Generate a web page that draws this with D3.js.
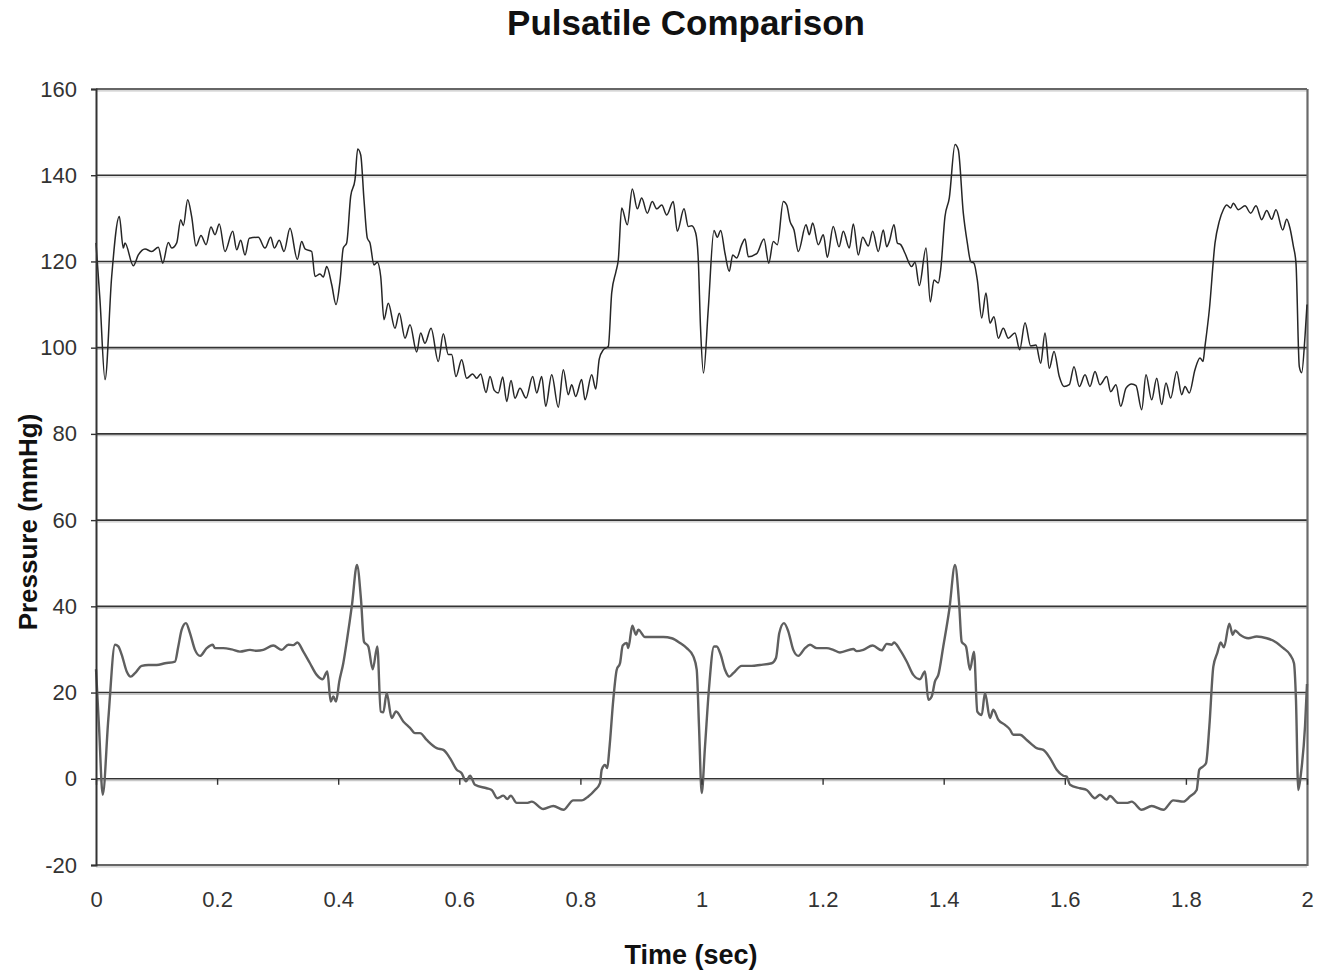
<!DOCTYPE html>
<html>
<head>
<meta charset="utf-8">
<script src="https://cdn.jsdelivr.net/npm/d3@7"></script>
<style>
  html, body { margin: 0; padding: 0; background: #fff; }
  svg { display: block; font-family: "Liberation Sans", Arial, sans-serif; }
</style>
</head>
<body>
<svg id="chart" width="1331" height="974"></svg>
<script>
// ---------------- DATA ----------------
const chartTitle = "Pulsatile Comparison";
const xAxisTitle = "Time (sec)";
const yAxisTitle = "Pressure (mmHg)";

const xTickValues = [0, 0.2, 0.4, 0.6, 0.8, 1, 1.2, 1.4, 1.6, 1.8, 2];
const xTickLabels = ["0", "0.2", "0.4", "0.6", "0.8", "1", "1.2", "1.4", "1.6", "1.8", "2"];
const yTickValues = [-20, 0, 20, 40, 60, 80, 100, 120, 140, 160];
const yTickLabels = ["-20", "0", "20", "40", "60", "80", "100", "120", "140", "160"];

// Upper trace (noisy, dark)
const upperTime = [0, 0.0066, 0.0149, 0.0259, 0.0385, 0.0451, 0.0479, 0.0616, 0.0699, 0.0809,
  0.0920, 0.1029, 0.1102, 0.1194, 0.1250, 0.1333, 0.1399, 0.1442, 0.1514, 0.1580,
  0.1652, 0.1734, 0.1817, 0.1899, 0.1965, 0.2036, 0.2130, 0.2258, 0.2324, 0.2390,
  0.2461, 0.2532, 0.2680, 0.2791, 0.2885, 0.2945, 0.3027, 0.3105, 0.3204, 0.3325,
  0.3397, 0.3452, 0.3562, 0.3617, 0.3699, 0.3754, 0.3810, 0.3893, 0.3964, 0.4030,
  0.4084, 0.4140, 0.4206, 0.4277, 0.4322, 0.4372, 0.4426, 0.4481, 0.4525, 0.4591,
  0.4646, 0.4702, 0.4756, 0.4827, 0.4938, 0.5009, 0.5103, 0.5186, 0.5296, 0.5362,
  0.5433, 0.5533, 0.5653, 0.5736, 0.5818, 0.5874, 0.5945, 0.6039, 0.6122, 0.6221,
  0.6287, 0.6353, 0.6441, 0.6507, 0.6578, 0.6644, 0.6717, 0.6783, 0.6854, 0.6920,
  0.7002, 0.7102, 0.7212, 0.7278, 0.7361, 0.7427, 0.7526, 0.7635, 0.7718, 0.7800,
  0.7856, 0.7922, 0.8021, 0.8076, 0.8187, 0.8253, 0.8312, 0.8378, 0.8461, 0.8517,
  0.8588, 0.8626, 0.8682, 0.8775, 0.8857, 0.8940, 0.9012, 0.9105, 0.9187, 0.9260,
  0.9343, 0.9425, 0.9534, 0.9600, 0.9711, 0.9782, 0.9838, 0.9904, 0.9947, 0.9983,
  1.0033, 1.0112, 1.0206, 1.0261, 1.0317, 1.0388, 1.0459, 1.0515, 1.0581, 1.0664,
  1.0718, 1.0773, 1.0911, 1.1032, 1.1110, 1.1186, 1.1252, 1.1351, 1.1407, 1.1462,
  1.1528, 1.1599, 1.1726, 1.1780, 1.1836, 1.1929, 1.2012, 1.2078, 1.2176, 1.2271,
  1.2342, 1.2441, 1.2507, 1.2590, 1.2662, 1.2755, 1.2827, 1.2920, 1.3002, 1.3059,
  1.3101, 1.3179, 1.3234, 1.3290, 1.3361, 1.3471, 1.3526, 1.3597, 1.3708, 1.3779,
  1.3840, 1.3911, 1.3950, 1.4021, 1.4092, 1.4187, 1.4241, 1.4324, 1.4390, 1.4446,
  1.4500, 1.4555, 1.4628, 1.4698, 1.4764, 1.4830, 1.4902, 1.4984, 1.5067, 1.5177,
  1.5255, 1.5343, 1.5437, 1.5524, 1.5602, 1.5673, 1.5744, 1.5822, 1.5909, 1.5987,
  1.6074, 1.6152, 1.6240, 1.6334, 1.6416, 1.6499, 1.6581, 1.6692, 1.6758, 1.6845,
  1.6923, 1.7011, 1.7105, 1.7176, 1.7270, 1.7341, 1.7435, 1.7518, 1.7600, 1.7671,
  1.7749, 1.7848, 1.7931, 1.7985, 1.8056, 1.8150, 1.8233, 1.8282, 1.8315, 1.8387,
  1.8481, 1.8551, 1.8618, 1.8674, 1.8740, 1.8783, 1.8866, 1.8976, 1.9070, 1.9158,
  1.9252, 1.9335, 1.9417, 1.9488, 1.9599, 1.9665, 1.9719, 1.9774, 1.9818, 1.9873,
  1.9912, 1.9967, 2.0];
const upperPressure = [124.3, 111, 92.6, 116.5, 130.4, 123.1, 124.3, 119, 121.5, 122.9,
  122.3, 123.3, 119.6, 124.4, 123.1, 124.3, 129.7, 128.3, 134.3, 130.4,
  123.6, 126, 123.9, 128, 126.2, 128.7, 122.3, 127, 122.7, 124.9,
  121.5, 125.4, 125.6, 123.1, 125.6, 123.1, 124.9, 122.3, 127.7, 120.5,
  124.6, 122.9, 122.3, 116.5, 117.1, 116.4, 118.8, 114.6, 110, 115.4,
  123.1, 124.3, 135.1, 138.9, 146.1, 144.7, 134.3, 125.4, 124.3, 119.2,
  119.8, 116.5, 106.5, 110.3, 104.5, 108, 102.2, 105.3, 99.0, 103.4,
  101, 104.5, 96.8, 103.2, 98.4, 98.4, 93.3, 97.2, 92.9, 93.9,
  92.9, 93.9, 89.6, 93.3, 90.1, 89.5, 93.2, 87.5, 92.4, 88.3,
  90.6, 88.3, 93.3, 89.5, 93.3, 86.4, 93.7, 86.2, 94.9, 89.1,
  91.4, 88.7, 92.6, 87.9, 93.7, 90.4, 97.4, 99.5, 100.3, 112.7,
  117.7, 120.4, 132.4, 128.5, 136.8, 132.2, 134.7, 131.2, 133.9, 132.2,
  133.1, 130.8, 133.9, 127, 132.2, 128.1, 128.3, 126.6, 120.4, 105,
  94.1, 109, 127.2, 125.6, 127.2, 121.9, 117.7, 121.5, 120.8, 123.9,
  125.2, 121.1, 121.8, 125.2, 119.6, 124.6, 123.9, 133.9, 133.1, 129.3,
  127.3, 122.3, 128.5, 126.2, 128.9, 123.9, 126.2, 121, 128.1, 123.4,
  127, 123.1, 128.7, 121.5, 125.6, 123.6, 127, 122.3, 127.3, 123.4,
  124.6, 128.5, 124.3, 123.9, 121.9, 118.8, 119.8, 114.4, 123.1, 110.6,
  115.7, 115, 118.1, 130.4, 134.7, 147.1, 145.9, 131.2, 124.3, 120,
  119.6, 115.7, 106.9, 112.7, 105.7, 107.2, 102.2, 104.5, 102.2, 103.4,
  99.5, 105.8, 100.4, 100.6, 96.4, 103.4, 95.2, 99.1, 93.3, 91,
  91.4, 95.6, 91, 93.7, 91, 94.5, 91.4, 93.3, 89.8, 91.4,
  86.4, 90.6, 91.6, 91.2, 85.6, 93.7, 87.9, 92.9, 86.8, 91.8,
  88.3, 94.5, 89.1, 91, 89.5, 94.9, 97.6, 96.8, 100.3, 108.8,
  124.3, 129.3, 132, 133.1, 132.4, 133.5, 132, 132.9, 131.2, 132.9,
  129.7, 131.8, 129.8, 132, 127.3, 129.8, 127.7, 123.6, 119.6, 95.6,
  94.2, 102.6, 110];

// Lower trace (smoother, grey)
const lowerTime = [0, 0.0050, 0.0111, 0.0203, 0.0314, 0.0368, 0.0424, 0.0507, 0.0573, 0.0644,
  0.0755, 0.0864, 0.1002, 0.1140, 0.1305, 0.1359, 0.1415, 0.1486, 0.1552, 0.1635,
  0.1718, 0.1828, 0.1927, 0.1965, 0.2102, 0.2241, 0.2378, 0.2543, 0.2654, 0.2763,
  0.2928, 0.3067, 0.3176, 0.3258, 0.3325, 0.3424, 0.3534, 0.3645, 0.3744, 0.3820,
  0.3876, 0.3919, 0.3964, 0.4018, 0.4084, 0.4145, 0.4228, 0.4310, 0.4377, 0.4426,
  0.4497, 0.4570, 0.4646, 0.4702, 0.4745, 0.4801, 0.4883, 0.4955, 0.5075, 0.5186,
  0.5268, 0.5351, 0.5462, 0.5627, 0.5736, 0.5846, 0.5957, 0.6039, 0.6111, 0.6177,
  0.6259, 0.6452, 0.6535, 0.6628, 0.6727, 0.6793, 0.6849, 0.6948, 0.7113, 0.7196,
  0.7387, 0.7553, 0.7718, 0.7883, 0.8021, 0.8130, 0.8241, 0.8324, 0.8352, 0.8406,
  0.8444, 0.8477, 0.8543, 0.8600, 0.8654, 0.8699, 0.8765, 0.8791, 0.8857, 0.8918,
  0.8956, 0.9067, 0.9204, 0.9369, 0.9508, 0.9645, 0.9756, 0.9865, 0.9921, 0.9959,
  1.0003, 1.0058, 1.0124, 1.0206, 1.0251, 1.0317, 1.0388, 1.0459, 1.0525, 1.0664,
  1.0829, 1.0966, 1.1159, 1.1230, 1.1285, 1.1362, 1.1433, 1.1516, 1.1599, 1.1709,
  1.1792, 1.1903, 1.2068, 1.2177, 1.2287, 1.2507, 1.2563, 1.2672, 1.2827, 1.2976,
  1.3059, 1.3141, 1.3179, 1.3278, 1.3389, 1.3498, 1.3608, 1.3691, 1.3746, 1.3802,
  1.3856, 1.3911, 1.3993, 1.4092, 1.4187, 1.4253, 1.4297, 1.4368, 1.4434, 1.4500,
  1.4555, 1.4628, 1.4682, 1.4764, 1.4819, 1.4902, 1.5012, 1.5095, 1.5150, 1.5260,
  1.5371, 1.5536, 1.5645, 1.5756, 1.5866, 1.5975, 1.6031, 1.6086, 1.6251, 1.6362,
  1.6499, 1.6581, 1.6692, 1.6746, 1.6884, 1.7022, 1.7105, 1.7270, 1.7435, 1.7627,
  1.7792, 1.7957, 1.8068, 1.8178, 1.8221, 1.8287, 1.8332, 1.8387, 1.8453, 1.8519,
  1.8574, 1.8629, 1.8717, 1.8773, 1.8811, 1.8893, 1.9031, 1.9169, 1.9335, 1.9472,
  1.9609, 1.9719, 1.9785, 1.9818, 1.9856, 1.9901, 1.9967, 2.0];
const lowerPressure = [25.4, 12, -3.7, 13.7, 31.1, 30.7, 28.8, 24.9, 23.7, 24.5,
  26.2, 26.4, 26.4, 26.8, 27.2, 30.7, 34.6, 36.1, 33.8, 29.9,
  28.5, 30.3, 31.1, 30.3, 30.3, 30.0, 29.5, 29.9, 29.7, 29.9,
  30.9, 29.9, 31.1, 31.0, 31.6, 29.5, 26.8, 24.1, 23.1, 24.9,
  17.9, 19.1, 17.9, 22.6, 26.8, 32.2, 40.4, 49.6, 41.5, 31.8,
  30.7, 25.4, 30.7, 15.6, 15.4, 19.9, 14.1, 15.6, 13.3, 11.8,
  10.6, 10.6, 9.0, 7.1, 6.7, 4.8, 2.1, 1.3, -0.6, 0.7,
  -1.4, -2.2, -2.6, -4.5, -3.9, -4.7, -3.9, -5.6, -5.6, -5.3,
  -7.0, -6.3, -7.2, -5.0, -5.0, -4.1, -2.6, -1.0, 2.1, 3.2,
  2.5, 6.7, 18.3, 25.3, 26.8, 30.9, 31.5, 30.3, 35.5, 33.4,
  34.6, 32.9, 32.9, 32.9, 32.6, 31.5, 30.3, 28.4, 25.3, 12.1,
  -3.3, 7.5, 21, 30.7, 30.7, 28.8, 25.3, 23.7, 24.5, 26.2,
  26.2, 26.4, 26.8, 28, 33.8, 36.1, 34.2, 29.9, 28.5, 30.3,
  31.1, 30.3, 30.3, 29.9, 29.3, 30.1, 29.6, 29.9, 30.9, 29.8,
  31.3, 31.1, 31.6, 29.9, 27.2, 24.1, 23.1, 24.9, 18.3, 19.1,
  22.6, 24.1, 30.7, 39.2, 49.6, 41, 31.8, 30.7, 25.3, 29.5,
  15.6, 14.8, 19.9, 14.1, 16, 13.7, 12.5, 11.4, 10.2, 10.2,
  9, 7.1, 6.7, 4.8, 2.1, 0.7, 0.5, -1.4, -2.2, -2.6,
  -4.5, -3.7, -4.8, -4.0, -5.6, -5.6, -5.3, -7.2, -6.3, -7.2,
  -5.0, -5.3, -4.1, -2.6, 2.1, 2.9, 3.6, 12.1, 26, 29.2,
  31.6, 30.5, 36, 33.4, 34.4, 33.4, 32.6, 33, 32.6, 31.8,
  30.3, 28.8, 26.8, 18.3, -2.6, 1.3, 12.1, 22];

// ---------------- CHART ----------------
const svg = d3.select("#chart");
const W = 1331, H = 974;
const plot = { left: 96, right: 1307, top: 89, bottom: 865 };

const x = d3.scaleLinear().domain([0, 2]).range([plot.left, plot.right]);
const y = d3.scaleLinear().domain([-20, 160]).range([plot.bottom, plot.top]);

svg.append("rect").attr("width", W).attr("height", H).attr("fill", "#fff");

// Horizontal gridlines (with faint shadow like the original)
const grid = svg.append("g");
grid.selectAll("line.shadow").data(yTickValues).join("line")
  .attr("class", "shadow")
  .attr("x1", plot.left).attr("x2", plot.right)
  .attr("y1", d => y(d) + 1.8).attr("y2", d => y(d) + 1.8)
  .attr("stroke", "#c8c8c8").attr("stroke-width", 1.2);
grid.selectAll("line.main").data(yTickValues).join("line")
  .attr("class", "main")
  .attr("x1", plot.left).attr("x2", plot.right)
  .attr("y1", d => y(d)).attr("y2", d => y(d))
  .attr("stroke", "#333").attr("stroke-width", 1.6);

// Right border
svg.append("line")
  .attr("x1", plot.right + 0.5).attr("x2", plot.right + 0.5)
  .attr("y1", plot.top).attr("y2", plot.bottom + 1)
  .attr("stroke", "#6a6a6a").attr("stroke-width", 2.2);

// Series lines
const lineGen = d3.line()
  .x(d => x(d[0])).y(d => y(d[1]))
  .curve(d3.curveMonotoneX);

const upperData = upperTime.map((t, i) => [t, upperPressure[i]]);
const lowerData = lowerTime.map((t, i) => [t, lowerPressure[i]]);

svg.append("path").datum(lowerData)
  .attr("d", lineGen).attr("fill", "none")
  .attr("stroke", "#5f5f5f").attr("stroke-width", 2.4)
  .attr("stroke-linejoin", "round");
svg.append("path").datum(upperData)
  .attr("d", lineGen).attr("fill", "none")
  .attr("stroke", "#262626").attr("stroke-width", 1.5)
  .attr("stroke-linejoin", "round");

// Y axis
const yAxis = d3.axisLeft(y).tickValues(yTickValues)
  .tickFormat((d, i) => yTickLabels[i]).tickSize(5).tickPadding(14);
const gy = svg.append("g").attr("transform", `translate(${plot.left},0)`).call(yAxis);
gy.select(".domain").attr("stroke", "#333").attr("stroke-width", 2);
gy.selectAll(".tick line").attr("stroke", "#333").attr("stroke-width", 1.4);
gy.selectAll("text").attr("font-size", 22).attr("fill", "#333")
  .attr("font-family", "'Liberation Sans', Arial, sans-serif");

// X axis tick marks on the zero line
const xAxisMarks = d3.axisBottom(x).tickValues(xTickValues)
  .tickFormat("").tickSize(6).tickSizeOuter(0);
const gxm = svg.append("g").attr("transform", `translate(0,${y(0)})`).call(xAxisMarks);
gxm.select(".domain").remove();
gxm.selectAll(".tick line").attr("stroke", "#333").attr("stroke-width", 1.4);

// X axis labels at the bottom
const xAxisLabels = d3.axisBottom(x).tickValues(xTickValues)
  .tickFormat((d, i) => xTickLabels[i]).tickSize(0).tickPadding(26);
const gxl = svg.append("g").attr("transform", `translate(0,${plot.bottom})`).call(xAxisLabels);
gxl.select(".domain").remove();
gxl.selectAll("text").attr("font-size", 22).attr("fill", "#333")
  .attr("font-family", "'Liberation Sans', Arial, sans-serif");

// Titles
svg.append("text")
  .attr("x", 686).attr("y", 35)
  .attr("text-anchor", "middle")
  .attr("font-size", 35).attr("font-weight", "bold").attr("fill", "#111")
  .text(chartTitle);

svg.append("text")
  .attr("x", 691).attr("y", 964)
  .attr("text-anchor", "middle")
  .attr("font-size", 27).attr("font-weight", "bold").attr("fill", "#111")
  .text(xAxisTitle);

svg.append("text")
  .attr("transform", "translate(37,522) rotate(-90)")
  .attr("text-anchor", "middle")
  .attr("font-size", 26).attr("font-weight", "bold").attr("fill", "#111")
  .text(yAxisTitle);
</script>
</body>
</html>
